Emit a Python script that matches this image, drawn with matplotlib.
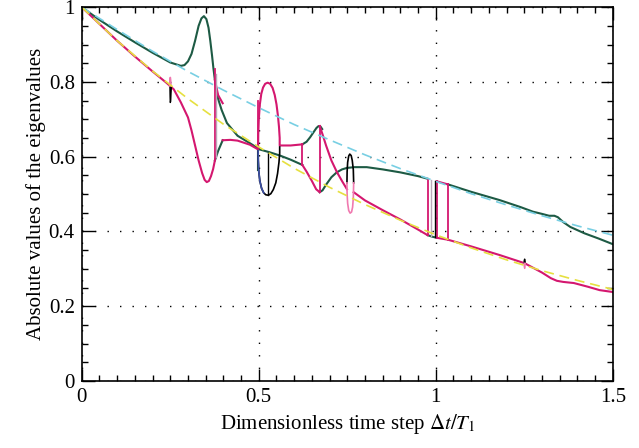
import numpy as np
import matplotlib
matplotlib.use('Agg')
import matplotlib.pyplot as plt
from matplotlib.ticker import MultipleLocator

plt.rcParams['font.family'] = ['Liberation Serif', 'DejaVu Serif']
plt.rcParams['mathtext.fontset'] = 'stix'

# ---- data (t = dt/T1, v = |eigenvalue|) ----
# reference dashed curves
cyan_t = [0, 0.1, 0.2, 0.3, 0.4, 0.5, 0.6, 0.7, 0.8, 0.9, 1.0, 1.1, 1.2, 1.3, 1.4, 1.5]
cyan_v = [1, 0.94, 0.882, 0.828, 0.778, 0.731, 0.686, 0.645, 0.605, 0.568, 0.534, 0.501, 0.471, 0.442, 0.415, 0.39]
yel_t = [0, 0.1, 0.2, 0.3, 0.4, 0.5, 0.6, 0.7, 0.8, 0.9, 1.0, 1.1, 1.2, 1.3, 1.4, 1.5]
yel_v = [1, 0.91, 0.829, 0.755, 0.687, 0.626, 0.569, 0.518, 0.472, 0.43, 0.391, 0.356, 0.324, 0.295, 0.269, 0.245]

# green branches
g1_t = [0, 0.05, 0.1, 0.15, 0.2, 0.25, 0.28, 0.29, 0.3, 0.31, 0.32, 0.33, 0.338, 0.345, 0.352,
        0.358, 0.363, 0.368, 0.372, 0.378, 0.385, 0.395, 0.41, 0.44, 0.475, 0.5]
g1_v = [1, 0.966, 0.935, 0.906, 0.878, 0.852, 0.843, 0.845, 0.855, 0.875, 0.91, 0.95, 0.97, 0.976, 0.968,
        0.945, 0.91, 0.87, 0.835, 0.79, 0.755, 0.725, 0.69, 0.656, 0.636, 0.621]
g2_t = [0.376, 0.385, 0.398]
g2_v = [0.59, 0.615, 0.644]
g3_t = [0.5, 0.53, 0.56, 0.59, 0.623]
g3_v = [0.62, 0.612, 0.603, 0.592, 0.578]
g4_t = [0.623, 0.635, 0.645, 0.655, 0.663, 0.669, 0.674, 0.679]
g4_v = [0.633, 0.64, 0.652, 0.666, 0.677, 0.682, 0.681, 0.674]
g5_t = [0.672, 0.68, 0.69, 0.705, 0.72, 0.735, 0.749, 0.77, 0.805, 0.85, 0.9, 0.95, 0.977]
g5_v = [0.505, 0.51, 0.525, 0.545, 0.558, 0.566, 0.57, 0.572, 0.572, 0.566, 0.558, 0.548, 0.541]
g6_t = [0.977, 0.99, 1.003]
g6_v = [0.39, 0.386, 0.383]
g7_t = [1.034, 1.1, 1.18, 1.24, 1.274, 1.3, 1.32, 1.335, 1.345, 1.36, 1.38, 1.42, 1.46, 1.5]
g7_v = [0.526, 0.506, 0.484, 0.465, 0.453, 0.447, 0.442, 0.442, 0.438, 0.425, 0.412, 0.395, 0.381, 0.366]
g8_t = [0.498, 0.498]
g8_v = [0.62, 0.565]

# magenta branches
m1_t = [0, 0.05, 0.1, 0.15, 0.2, 0.24, 0.26, 0.28, 0.3, 0.31, 0.32, 0.33, 0.34, 0.347, 0.353,
        0.359, 0.365, 0.371, 0.376]
m1_v = [1, 0.955, 0.91, 0.868, 0.828, 0.797, 0.78, 0.745, 0.705, 0.67, 0.63, 0.59, 0.556, 0.538, 0.532,
        0.535, 0.548, 0.567, 0.59]
m2_t = [0.398, 0.42, 0.44, 0.475, 0.497]
m2_v = [0.644, 0.645, 0.643, 0.632, 0.62]
m3_t = [0.376, 0.385, 0.398]
m3_v = [0.805, 0.765, 0.743]
m4_t = [0.498, 0.4985, 0.5, 0.503, 0.507, 0.512, 0.518, 0.525, 0.532, 0.539, 0.545, 0.55, 0.554,
        0.557, 0.559, 0.559, 0.59, 0.623]
m4_v = [0.62, 0.66, 0.7, 0.74, 0.768, 0.785, 0.795, 0.798, 0.795, 0.784, 0.765, 0.74, 0.71,
        0.68, 0.65, 0.63, 0.63, 0.633]
m5_t = [0.623, 0.635, 0.65, 0.662, 0.672]
m5_v = [0.578, 0.56, 0.535, 0.513, 0.505]
m6_t = [0.672, 0.68, 0.69, 0.705, 0.72, 0.735, 0.749]
m6_v = [0.682, 0.66, 0.63, 0.59, 0.56, 0.535, 0.513]
m7_t = [0.768, 0.8, 0.85, 0.9, 0.95, 0.977]
m7_v = [0.505, 0.483, 0.457, 0.432, 0.405, 0.39]
m8_t = [1.003, 1.034, 1.1, 1.18, 1.251, 1.3, 1.325, 1.342, 1.36, 1.39, 1.43, 1.463, 1.5]
m8_v = [0.383, 0.378, 0.36, 0.337, 0.315, 0.29, 0.275, 0.268, 0.265, 0.262, 0.252, 0.243, 0.238]
m9_t = [1.003, 1.034]
m9_v = [0.534, 0.526]

# loops (upper / lower halves)
loopa_up_t = [0.248, 0.249, 0.25, 0.251, 0.252]
loopa_up_v = [0.79, 0.805, 0.812, 0.805, 0.79]
loopa_lo_t = [0.249, 0.2495, 0.25, 0.251, 0.252, 0.253]
loopa_lo_v = [0.785, 0.76, 0.745, 0.748, 0.77, 0.785]
loopb_lo_t = [0.498, 0.4985, 0.5, 0.503, 0.508, 0.514, 0.52, 0.527, 0.534, 0.541, 0.548, 0.553,
              0.557, 0.559, 0.559]
loopb_lo_v = [0.62, 0.59, 0.56, 0.535, 0.515, 0.503, 0.498, 0.497, 0.501, 0.512, 0.53, 0.555,
              0.585, 0.61, 0.626]
loopc_up_t = [0.749, 0.7495, 0.751, 0.754, 0.757, 0.761, 0.764, 0.767, 0.768]
loopc_up_v = [0.53, 0.56, 0.585, 0.602, 0.607, 0.603, 0.59, 0.565, 0.53]
loopc_lo_t = [0.749, 0.7495, 0.751, 0.754, 0.758, 0.762, 0.765, 0.767, 0.768]
loopc_lo_v = [0.53, 0.5, 0.475, 0.456, 0.449, 0.452, 0.465, 0.49, 0.53]
loopd_up_t = [1.249, 1.25, 1.251, 1.252, 1.253]
loopd_up_v = [0.315, 0.323, 0.326, 0.322, 0.315]
loopd_lo_t = [1.249, 1.25, 1.251, 1.252, 1.253]
loopd_lo_v = [0.315, 0.305, 0.301, 0.306, 0.315]

# vertical jumps: (t, v_low, v_high)
jumps_magenta = [(0.376, 0.59, 0.835), (0.499, 0.62, 0.75), (0.623, 0.578, 0.633),
                 (0.672, 0.505, 0.682), (0.977, 0.39, 0.541), (1.003, 0.383, 0.534),
                 (1.034, 0.378, 0.526)]
jumps_grey = [(0.379, 0.6, 0.82), (0.986, 0.388, 0.538)]
jumps_black = [(0.525, 0.497, 0.61), (0.997, 0.385, 0.536)]

# ---- colours ----
GREEN = '#1d5a44'
MAGENTA = '#d4176f'
PINK = '#f07ab0'
BLUE = '#3b4fa5'
CYAN = '#78cfe3'
YELLOW = '#e6e040'

fig, ax = plt.subplots(figsize=(6.39, 4.48), dpi=100)
fig.subplots_adjust(left=0.128, right=0.959, bottom=0.1496, top=0.984)

lw = 1.5
# solid green
for t, v in [(g1_t, g1_v), (g2_t, g2_v), (g3_t, g3_v), (g4_t, g4_v),
             (g5_t, g5_v), (g6_t, g6_v), (g7_t, g7_v), (g8_t, g8_v)]:
    ax.plot(t, v, color=GREEN, lw=lw)
# solid magenta
for t, v in [(m1_t, m1_v), (m2_t, m2_v), (m3_t, m3_v), (m4_t, m4_v), (m5_t, m5_v),
             (m6_t, m6_v), (m7_t, m7_v), (m8_t, m8_v), (m9_t, m9_v)]:
    ax.plot(t, v, color=MAGENTA, lw=lw)

# loops
ax.plot(loopa_up_t, loopa_up_v, color=PINK, lw=1.2)
ax.plot(loopa_lo_t, loopa_lo_v, color='black', lw=1.0)
ax.plot(loopb_lo_t, loopb_lo_v, color='black', lw=1.2)
ax.plot(loopb_lo_t[:6], loopb_lo_v[:6], color=BLUE, lw=1.2)
ax.plot(loopc_up_t, loopc_up_v, color='black', lw=1.2)
ax.plot(loopc_lo_t, loopc_lo_v, color=PINK, lw=1.2)
ax.plot(loopd_up_t, loopd_up_v, color='black', lw=1.0)
ax.plot(loopd_lo_t, loopd_lo_v, color=PINK, lw=1.0)

# vertical jumps
for t, lo, hi in jumps_magenta:
    ax.plot([t, t], [lo, hi], color=MAGENTA, lw=1.3)
for t, lo, hi in jumps_grey:
    ax.plot([t, t], [lo, hi], color='#b9a9b9', lw=1.0)
for t, lo, hi in jumps_black:
    ax.plot([t, t], [lo, hi], color='black', lw=1.0)

# dashed reference curves
ax.plot(cyan_t, cyan_v, color=CYAN, lw=1.2, dashes=(6, 3.5))
ax.plot(yel_t, yel_v, color=YELLOW, lw=1.2, dashes=(6, 3.5))

# axes styling
ax.set_xlim(0, 1.5)
ax.set_ylim(0, 1)
ax.set_xticks([0, 0.5, 1, 1.5])
ax.set_xticklabels(['0', '0.5', '1', '1.5'])
ax.set_yticks([0, 0.2, 0.4, 0.6, 0.8, 1])
ax.set_yticklabels(['0', '0.2', '0.4', '0.6', '0.8', '1'])
ax.xaxis.set_minor_locator(MultipleLocator(0.05))
ax.yaxis.set_minor_locator(MultipleLocator(0.05))
ax.tick_params(which='both', direction='in', top=True, right=True, labelsize=15, width=1.0)
ax.tick_params(which='major', length=9, pad=5)
ax.tick_params(which='minor', length=4)
for s in ax.spines.values():
    s.set_linewidth(1.2)
ax.grid(True, which='major', color='black', lw=1.0, linestyle=(0, (1, 8)))

ax.set_xlabel(r'Dimensionless time step $\Delta t/T_1$', fontsize=15, labelpad=4)
ax.set_ylabel('Absolute values of the eigenvalues', fontsize=15, labelpad=2)

plt.savefig('out.png', dpi=100)
